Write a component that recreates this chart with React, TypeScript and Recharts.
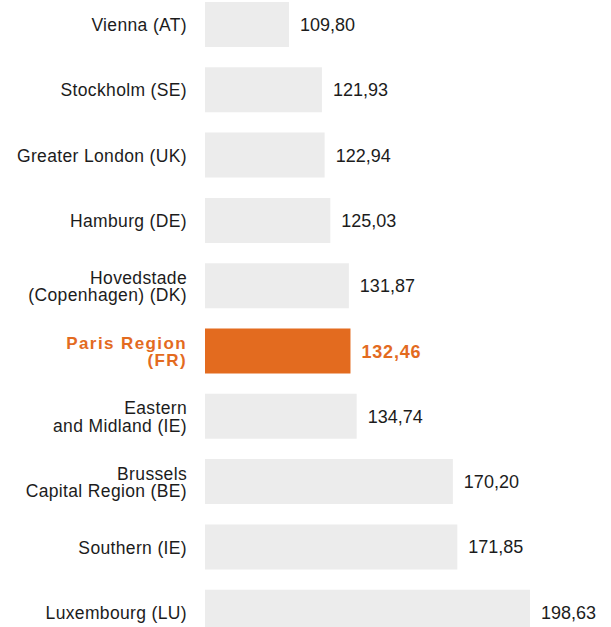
import React from "react";
import { BarChart, Bar, XAxis, YAxis, Cell, LabelList } from "recharts";

const categories = [
  "Vienna (AT)",
  "Stockholm (SE)",
  "Greater London (UK)",
  "Hamburg (DE)",
  "Hovedstade\n(Copenhagen) (DK)",
  "Paris Region\n(FR)",
  "Eastern\nand Midland (IE)",
  "Brussels\nCapital Region (BE)",
  "Southern (IE)",
  "Luxembourg (LU)",
];
const values = [109.8, 121.93, 122.94, 125.03, 131.87, 132.46, 134.74, 170.2, 171.85, 198.63];
const highlight = "Paris Region\n(FR)";

const data = categories.map((name, i) => ({ name, value: values[i] }));

const ORANGE = "#E36B1F";
const GREY = "#ECECEC";
const TEXT = "#1c1c1c";
const FONT = "'Liberation Sans', Arial, Helvetica, sans-serif";

const fmt = (v: number) => v.toFixed(2).replace(".", ",");

const CategoryTick = (props: any) => {
  const { x, y, payload } = props;
  const label: string = payload.value;
  const lines = label.split("\n");
  const isHi = label === highlight;
  const lh = 17.3;
  const startDy = 6.5 - ((lines.length - 1) * lh) / 2;
  return (
    <text
      x={x}
      y={y}
      textAnchor="end"
      fill={isHi ? ORANGE : TEXT}
      fontFamily={FONT}
      fontSize={isHi ? 17 : 17.5}
      fontWeight={isHi ? 700 : 400}
      letterSpacing={isHi ? 1.4 : 0.35}
    >
      {lines.map((l, i) => (
        <tspan key={i} x={x} y={y + startDy + i * lh}>
          {l}
        </tspan>
      ))}
    </text>
  );
};

const ValueLabel = (props: any) => {
  const { x, y, width, height, value, index } = props;
  const isHi = categories[index] === highlight;
  return (
    <text
      x={x + width + 11}
      y={y + height / 2 + 6.5}
      textAnchor="start"
      fill={isHi ? ORANGE : TEXT}
      fontFamily={FONT}
      fontSize={18}
      fontWeight={isHi ? 700 : 400}
      letterSpacing={isHi ? 0.8 : 0}
    >
      {fmt(value)}
    </text>
  );
};

export default function App() {
  return (
    <div style={{ position: "absolute", left: 0, top: -8, width: 611 }}>
      <BarChart
        width={611}
        height={653}
        data={data}
        layout="vertical"
        margin={{ top: 0, right: 81, bottom: 0, left: 0 }}
        barSize={45}
      >
        <XAxis type="number" hide domain={[78.84, 198.63]} allowDataOverflow />
        <YAxis
          type="category"
          dataKey="name"
          width={205}
          axisLine={false}
          tickLine={false}
          tickSize={0}
          tickMargin={18}
          interval={0}
          tick={<CategoryTick />}
        />
        <Bar dataKey="value" isAnimationActive={false}>
          {data.map((d, i) => (
            <Cell key={i} fill={d.name === highlight ? ORANGE : GREY} />
          ))}
          <LabelList dataKey="value" content={<ValueLabel />} />
        </Bar>
      </BarChart>
    </div>
  );
}
